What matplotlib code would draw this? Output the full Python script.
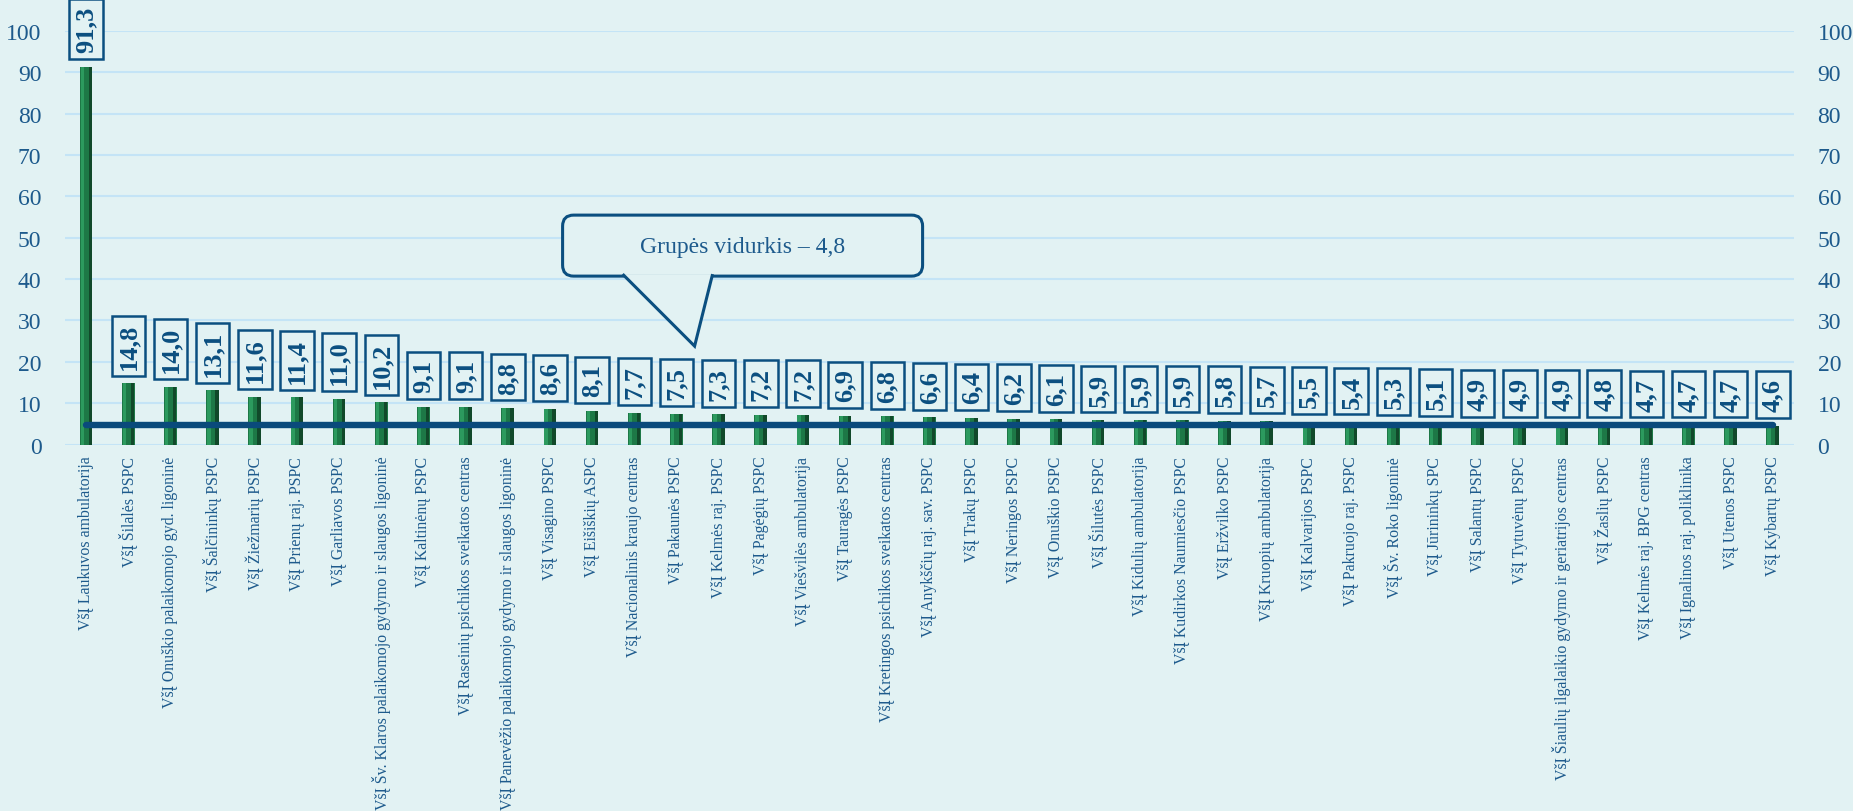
import numpy as np
import matplotlib
matplotlib.use('Agg')
import matplotlib.pyplot as plt
from matplotlib.patches import FancyBboxPatch, Polygon
from matplotlib.path import Path
from matplotlib.transforms import IdentityTransform

# Data
names = [
	'VšĮ Laukuvos ambulatorija', 'VšĮ Šilalės PSPC', 'VšĮ Onuškio palaikomojo gyd. ligoninė',
	'VšĮ Šalčininkų PSPC', 'VšĮ Žiežmarių PSPC', 'VšĮ Prienų raj. PSPC', 'VšĮ Garliavos PSPC',
	'VšĮ Šv. Klaros palaikomojo gydymo ir slaugos ligoninė', 'VšĮ Kaltinėnų PSPC',
	'VšĮ Raseinių psichikos sveikatos centras', 'VšĮ Panevėžio palaikomojo gydymo ir slaugos ligoninė',
	'VšĮ Visagino PSPC', 'VšĮ Eišiškių ASPC', 'VšĮ Nacionalinis kraujo centras', 'VšĮ Pakaunės PSPC',
	'VšĮ Kelmės raj. PSPC', 'VšĮ Pagėgių PSPC', 'VšĮ Viešvilės ambulatorija', 'VšĮ Tauragės PSPC',
	'VšĮ Kretingos psichikos sveikatos centras', 'VšĮ Anykščių raj. sav. PSPC', 'VšĮ Trakų PSPC',
	'VšĮ Neringos PSPC', 'VšĮ Onuškio PSPC', 'VšĮ Šilutės PSPC', 'VšĮ Kidulių ambulatorija',
	'VšĮ Kudirkos Naumiesčio PSPC', 'VšĮ Eržvilko PSPC', 'VšĮ Kruopių ambulatorija',
	'VšĮ Kalvarijos PSPC', 'VšĮ Pakruojo raj. PSPC', 'VšĮ Šv. Roko ligoninė', 'VšĮ Jūrininkų SPC',
	'VšĮ Salantų PSPC', 'VšĮ Tytuvėnų PSPC', 'VšĮ Šiaulių ilgalaikio gydymo ir geriatrijos centras',
	'VšĮ Žaslių PSPC', 'VšĮ Kelmės raj. BPG centras', 'VšĮ Ignalinos raj. poliklinika',
	'VšĮ Utenos PSPC', 'VšĮ Kybartų PSPC']
values = [91.3, 14.8, 14.0, 13.1, 11.6, 11.4, 11.0, 10.2, 9.1, 9.1, 8.8, 8.6, 8.1, 7.7, 7.5,
	7.3, 7.2, 7.2, 6.9, 6.8, 6.6, 6.4, 6.2, 6.1, 5.9, 5.9, 5.9, 5.8, 5.7, 5.5, 5.4, 5.3, 5.1,
	4.9, 4.9, 4.9, 4.8, 4.7, 4.7, 4.7, 4.6]
group_avg = 4.8
y_ticks = [0, 10, 20, 30, 40, 50, 60, 70, 80, 90, 100]

bg = '#e2f2f3'
dark_blue = '#0b4f80'
text_blue = '#1d5a8c'
serif = ['Liberation Serif', 'DejaVu Serif']

# box with more padding along the text than across it
def label_box(x0, y0, width, height, mutation_size):
	px = 0.26 * mutation_size
	py = 0.20 * mutation_size
	x0, y0 = x0 - px, y0 - py
	x1, y1 = x0 + width + 2 * px, y0 + height + 2 * py
	return Path([(x0, y0), (x1, y0), (x1, y1), (x0, y1), (x0, y0)], closed=True)

fig = plt.figure(figsize=(18.53, 8.12), dpi=100, facecolor=bg)
ax = fig.add_axes([0.0351, 0.4513, 0.9330, 0.5093], facecolor=bg)

x = np.arange(len(values))
# bars with a simple bevel look
ax.bar(x, values, width=0.30, color='#1d7846', linewidth=0, zorder=3)
ax.bar(x - 0.09, values, width=0.08, color='#2c9a5e', linewidth=0, zorder=3)
ax.bar(x + 0.10, values, width=0.08, color='#11492a', linewidth=0, zorder=3)

# group average line
ax.plot([x[0], x[-1]], [group_avg, group_avg], color='#0a4a7b', lw=4.6,
	solid_capstyle='round', zorder=4)

# value labels
for xi, v in zip(x, values):
	ax.annotate(f'{v:.1f}'.replace('.', ','), xy=(xi, v), xytext=(0, 10.5),
		textcoords='offset points', rotation=90, ha='center', va='bottom',
		fontsize=19, fontweight='bold', color=dark_blue, family=serif,
		bbox=dict(boxstyle=label_box, fc=bg, ec=dark_blue, lw=1.8),
		annotation_clip=False, zorder=5)

ax.set_xlim(-0.5, len(values) - 0.5)
ax.set_ylim(0, 100)
ax.set_yticks(y_ticks)
ax.set_xticks(x)
ax.set_xticklabels(names, rotation=90, fontsize=11.4, color=text_blue, family=serif, va='top')
ax.tick_params(axis='x', length=0, pad=8)
ax.tick_params(axis='y', length=0, pad=17, labelsize=17, labelcolor=text_blue,
	labelleft=True, labelright=True)
for t in ax.yaxis.get_major_ticks():
	t.label1.set_family(serif)
	t.label2.set_family(serif)
ax.grid(axis='y', color='#c4e4f6', lw=1.5, zorder=0)
for s in ax.spines.values():
	s.set_visible(False)

# callout "Grupės vidurkis"
fig.canvas.draw()
tip = ax.transData.transform((14.43, 23.8))
tx, ty = tip
box = FancyBboxPatch((tx - 132, ty + 70), 360, 61, boxstyle='round,pad=0,rounding_size=11',
	fc=bg, ec=dark_blue, lw=2.2, transform=IdentityTransform(), zorder=6)
fig.patches.append(box)
tail = Polygon([(tx - 72, ty + 72), (tx, ty), (tx + 18, ty + 72)], closed=False,
	fc=bg, ec=dark_blue, lw=2.2, transform=IdentityTransform(), zorder=7)
fig.patches.append(tail)
fig.text((tx + 48) / fig.bbox.width, (ty + 100) / fig.bbox.height, 'Grupės vidurkis – 4,8',
	ha='center', va='center', fontsize=17, color=text_blue, family=serif, zorder=8)

fig.savefig('out.png', dpi=100, facecolor=bg)
